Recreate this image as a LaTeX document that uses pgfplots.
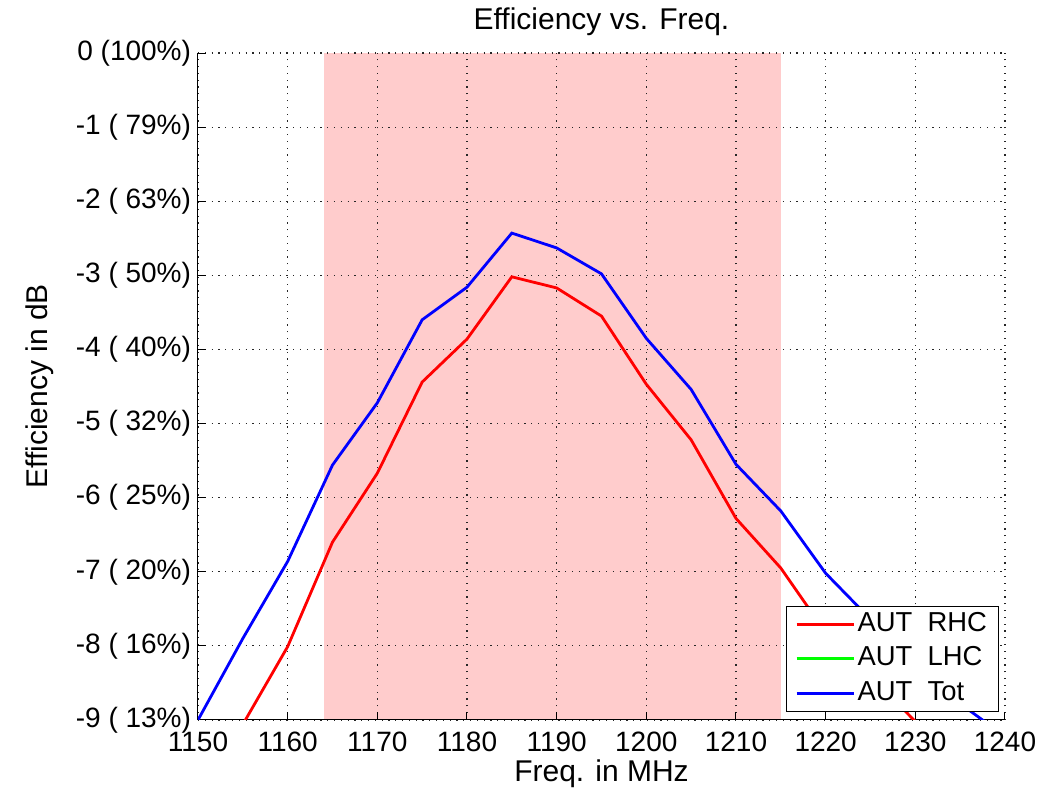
\documentclass[border=0pt]{standalone}
\usepackage{pgfplots}
\pgfplotsset{compat=1.18}
\usepackage{fontspec}
\setmainfont{Liberation Sans}
\definecolor{band}{RGB}{255,204,204}
\begin{document}
\begin{tikzpicture}
\begin{axis}[
  set layers,
  scale only axis,
  width=403.5pt, height=333.5pt,
  xmin=1150, xmax=1240, ymin=-9, ymax=0,
  axis lines*=left,
  tick pos=left,
  tick align=inside,
  major tick length=4pt,
  axis line style={line width=0.5pt, black},
  every tick/.style={black, line width=0.5pt},
  xtick={1150,1160,...,1240},
  ytick={-9,-8,...,0},
  yticklabels={-9 ( 13\%),-8 ( 16\%),-7 ( 20\%),-6 ( 25\%),-5 ( 32\%),-4 ( 40\%),-3 ( 50\%),-2 ( 63\%),-1 ( 79\%),0 (100\%)},
  /pgf/number format/assume math mode=true,
  /pgf/number format/1000 sep={},
  ticklabel style={font=\fontsize{14}{16}\selectfont},
  xticklabel style={anchor=base, inner sep=0pt, yshift=-15.9pt},
  yticklabel style={anchor=east, inner sep=0pt, xshift=-3.3pt},
  grid=major,
  major grid style={black!85, line width=0.55pt, dash pattern=on 0.6pt off 2.8pt},
  title={Efficiency vs. Freq.},
  title style={at={(axis description cs:0.5,1.0345)}, anchor=base, inner sep=0pt, yshift=-6pt, font=\fontsize{15}{18}\selectfont},
  xlabel={Freq. in MHz},
  xlabel style={at={(axis description cs:0.5,-0.0915)}, anchor=base, inner sep=0pt, font=\fontsize{15}{18}\selectfont},
  ylabel={Efficiency in dB},
  ylabel style={at={(axis description cs:-0.186,0.5)}, anchor=base, inner sep=0pt, font=\fontsize{15}{18}\selectfont},
  legend cell align=left,
  legend image code/.code={\draw[#1] (0pt,0pt) -- (28.5pt,0pt);},
  legend style={at={(axis description cs:0.992,0.0124)}, anchor=south east,
    draw=black, line width=0.5pt, fill=white,
    font=\fontsize{13.7}{17}\selectfont,
    inner xsep=4.25pt, inner ysep=0.5pt, row sep=0pt,
    nodes={inner xsep=1.25pt, inner ysep=2pt, text height=10.2pt, text depth=3pt}},
]
% pass band
\addplot[draw=none, fill=band, on layer=axis background, forget plot]
  coordinates {(1164,-9) (1164,0) (1215,0) (1215,-9)} -- cycle;

% RHC
\addplot[red, line width=1.4pt, forget plot] coordinates {
  (1155,-9.06) (1160,-8.01) (1165,-6.60) (1170,-5.67) (1175,-4.44)
  (1180,-3.86) (1185,-3.02) (1190,-3.17) (1195,-3.55) (1200,-4.47)
  (1205,-5.22) (1210,-6.28) (1215,-6.95) (1220,-7.82) (1225,-8.40)
  (1230,-9.02) (1235,-9.60)
};

% total
\addplot[blue, line width=1.4pt, forget plot] coordinates {
  (1150,-9.00) (1155,-7.90) (1160,-6.86) (1165,-5.56) (1170,-4.72)
  (1175,-3.60) (1180,-3.16) (1185,-2.43) (1190,-2.63) (1195,-2.98)
  (1200,-3.85) (1205,-4.54) (1210,-5.55) (1215,-6.18) (1220,-7.02)
  (1225,-7.64) (1230,-8.20) (1235,-8.78) (1240,-9.22)
};

\addlegendimage{red, line width=1.5pt}
\addlegendentry{AUT\ \ RHC}
\addlegendimage{green, line width=1.5pt}
\addlegendentry{AUT\ \ LHC}
\addlegendimage{blue, line width=1.5pt}
\addlegendentry{AUT\ \ Tot}
\end{axis}
\pgfresetboundingbox
\path[use as bounding box] (-99pt,-35.5pt) rectangle (431.5pt,360pt);
\end{tikzpicture}
\end{document}
